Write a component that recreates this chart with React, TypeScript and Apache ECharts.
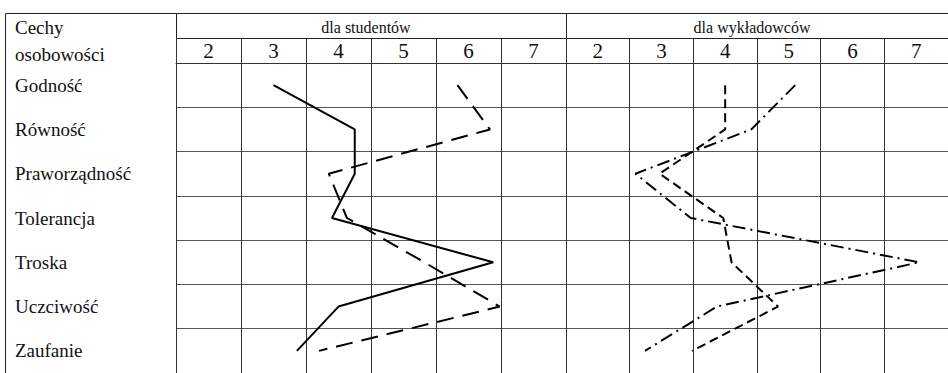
import React, { useEffect, useRef } from 'react';
import * as echarts from 'echarts';

// Rows (personality traits) and scale columns
const categories = ['Godność', 'Równość', 'Praworządność', 'Tolerancja', 'Troska', 'Uczciwość', 'Zaufanie'];
const scaleLabels = ['2', '3', '4', '5', '6', '7'];

// Values (scale 2..7)
const studentsSolid = [3.0, 4.25, 4.25, 3.9, 6.38, 4.0, 3.36];
const studentsDashed = [5.83, 6.33, 3.85, 4.13, 5.32, 6.48, 3.7];
const lecturersDashed = [4.0, 4.0, 2.97, 3.97, 4.1, 4.83, 3.48];
const lecturersDashDot = [5.1, 4.41, 2.59, 3.46, 7.05, 3.87, 2.74];

const headerStudents = 'dla studentów';
const headerLecturers = 'dla wykładowców';

export default function App() {
  const ref = useRef<HTMLDivElement>(null);
  useEffect(() => {
    const chart = echarts.init(ref.current!, null, { renderer: 'svg' });
    const FONT = 'Liberation Serif';
    const gridTop = 63;
    const rowH = 45;
    const colW = 65;
    const labelRight = 176;
    const gridH = rowH * categories.length;
    const gridW = colW * scaleLabels.length;
    const lineStyle = { color: '#333', width: 1 };
    const hLineStyle = { color: '#555', width: 1 };
    const grids = [
      { left: labelRight, top: gridTop, width: gridW, height: gridH },
      { left: labelRight + gridW, top: gridTop, width: gridW, height: gridH },
    ];
    const xAxes: any[] = [];
    const yAxes: any[] = [];
    grids.forEach((_, i) => {
      xAxes.push({ type: 'value', gridIndex: i, min: 1.5, max: 7.5, show: false });
      xAxes.push({
        type: 'category', gridIndex: i, position: 'top', data: scaleLabels, boundaryGap: true,
        axisLine: { show: true, lineStyle },
        axisTick: { show: true, length: 25, lineStyle },
        axisLabel: { show: true, fontFamily: FONT, fontSize: 21, color: '#111', margin: 12, verticalAlign: 'middle' },
        splitLine: { show: true, lineStyle },
      });
      yAxes.push({
        type: 'category', gridIndex: i, data: categories, inverse: true, boundaryGap: true,
        axisLine: { show: true, lineStyle },
        axisTick: { show: false },
        axisLabel: { show: i === 0, fontFamily: FONT, fontSize: 19, color: '#111', align: 'left', margin: labelRight - 15 },
        splitLine: { show: true, lineStyle: hLineStyle },
      });
    });
    const mk = (vals: number[], xi: number, yi: number, type: any) => ({
      type: 'line', xAxisIndex: xi, yAxisIndex: yi, symbol: 'none',
      data: vals.map((v, i) => [v, i]),
      lineStyle: { color: '#000', width: 2, type },
    });
    const W = 948;
    chart.setOption({
      animation: false,
      backgroundColor: '#fff',
      grid: grids,
      xAxis: xAxes,
      yAxis: yAxes,
      series: [
        mk(studentsSolid, 0, 0, 'solid'),
        mk(studentsDashed, 0, 0, [17, 9]),
        mk(lecturersDashed, 2, 1, [9, 5]),
        mk(lecturersDashDot, 2, 1, [13, 5, 2, 5]),
      ],
      graphic: [
        { type: 'line', shape: { x1: 5.5, y1: 13.5, x2: W, y2: 13.5 }, style: { stroke: '#222', lineWidth: 1 } },
        { type: 'line', shape: { x1: 5.5, y1: 13.5, x2: 5.5, y2: gridTop + gridH }, style: { stroke: '#222', lineWidth: 1 } },
        { type: 'line', shape: { x1: labelRight, y1: 38.5, x2: W, y2: 38.5 }, style: { stroke: '#222', lineWidth: 1 } },
        { type: 'line', shape: { x1: labelRight + 0.5, y1: 13.5, x2: labelRight + 0.5, y2: gridTop }, style: { stroke: '#222', lineWidth: 1 } },
        { type: 'line', shape: { x1: labelRight + gridW + 0.5, y1: 13.5, x2: labelRight + gridW + 0.5, y2: gridTop }, style: { stroke: '#222', lineWidth: 1 } },
        { type: 'text', x: 15, y: 27, style: { text: 'Cechy', fontFamily: FONT, fontSize: 19, fill: '#111', verticalAlign: 'middle' } },
        { type: 'text', x: 15, y: 54, style: { text: 'osobowości', fontFamily: FONT, fontSize: 19, fill: '#111', verticalAlign: 'middle' } },
        { type: 'text', x: 366, y: 27, style: { text: headerStudents, fontFamily: FONT, fontSize: 16, fill: '#111', align: 'center', verticalAlign: 'middle' } },
        { type: 'text', x: 752, y: 27, style: { text: headerLecturers, fontFamily: FONT, fontSize: 16, fill: '#111', align: 'center', verticalAlign: 'middle' } },
      ],
    });
    return () => chart.dispose();
  }, []);
  return <div ref={ref} style={{ position: 'absolute', left: 0, top: 0, width: 948, height: 373 }} />;
}
